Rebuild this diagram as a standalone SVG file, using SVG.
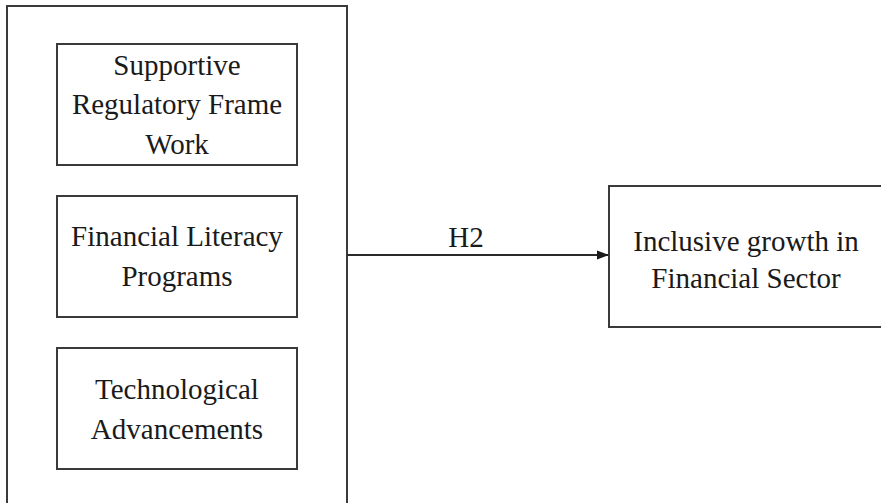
<svg xmlns="http://www.w3.org/2000/svg" width="881" height="503" viewBox="0 0 881 503">
<style>
.box{fill:#fff;stroke:#3a3a3a;stroke-width:2}
.t{font-family:"Liberation Serif","Times New Roman",serif;font-size:29px;fill:#1a1a1a;text-anchor:middle}
.c{stroke:#2a2a2a;stroke-width:2;fill:none}
</style>
<defs>
<marker id="ah" markerWidth="12" markerHeight="10" refX="11" refY="5" orient="auto" markerUnits="userSpaceOnUse">
<path d="M0,0.5 L12,5 L0,9.5 Z" fill="#1a1a1a"/>
</marker>
</defs>
<rect width="881" height="503" fill="#fff"/>
<g id="group-outer"><rect class="box" x="7" y="6" width="340" height="510"/></g>
<g id="node-regulatory">
<rect class="box" x="57" y="44" width="240" height="121"/>
<text class="t" x="177" y="75">Supportive</text>
<text class="t" x="177" y="114">Regulatory Frame</text>
<text class="t" x="177" y="154">Work</text>
</g>
<g id="node-literacy">
<rect class="box" x="57" y="196" width="240" height="121"/>
<text class="t" x="177" y="246">Financial Literacy</text>
<text class="t" x="177" y="286">Programs</text>
</g>
<g id="node-tech">
<rect class="box" x="57" y="348" width="240" height="121"/>
<text class="t" x="177" y="399">Technological</text>
<text class="t" x="177" y="439">Advancements</text>
</g>
<g id="node-inclusive">
<rect class="box" x="609" y="186" width="280" height="141"/>
<text class="t" x="746" y="251">Inclusive growth in</text>
<text class="t" x="746" y="288">Financial Sector</text>
</g>
<g id="connectors">
<line class="c" x1="347" y1="255" x2="608" y2="255" marker-end="url(#ah)"/>
<text class="t" x="466" y="247">H2</text>
</g>
</svg>
